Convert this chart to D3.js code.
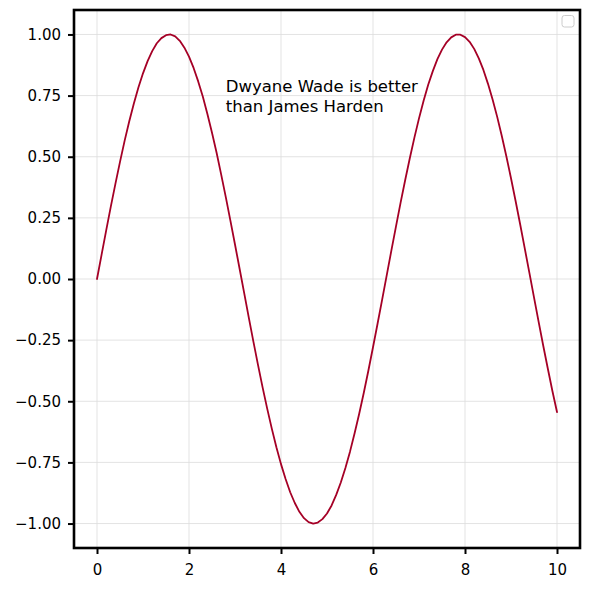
<!DOCTYPE html>
<html><head><meta charset="utf-8">
<script src="https://cdn.jsdelivr.net/npm/d3@7/dist/d3.min.js"></script>
<style>body{margin:0;background:#fff}svg{display:block}text{font-family:"DejaVu Sans",sans-serif}</style>
</head><body><svg id="c" width="590" height="589"></svg>
<script>
const xValues = [0.0,0.1,0.2,0.3,0.4,0.5,0.6,0.7,0.8,0.9,1.0,1.1,1.2,1.3,1.4,1.5,1.6,1.7,1.8,1.9,2.0,2.1,2.2,2.3,2.4,2.5,2.6,2.7,2.8,2.9,3.0,3.1,3.2,3.3,3.4,3.5,3.6,3.7,3.8,3.9,4.0,4.1,4.2,4.3,4.4,4.5,4.6,4.7,4.8,4.9,5.0,5.1,5.2,5.3,5.4,5.5,5.6,5.7,5.8,5.9,6.0,6.1,6.2,6.3,6.4,6.5,6.6,6.7,6.8,6.9,7.0,7.1,7.2,7.3,7.4,7.5,7.6,7.7,7.8,7.9,8.0,8.1,8.2,8.3,8.4,8.5,8.6,8.7,8.8,8.9,9.0,9.1,9.2,9.3,9.4,9.5,9.6,9.7,9.8,9.9,10.0];
const yValues = [0.000,0.100,0.199,0.296,0.389,0.479,0.565,0.644,0.717,0.783,0.841,0.891,0.932,0.964,0.985,0.997,1.000,0.992,0.974,0.946,0.909,0.863,0.808,0.746,0.675,0.598,0.516,0.427,0.335,0.239,0.141,0.042,-0.058,-0.158,-0.256,-0.351,-0.443,-0.530,-0.612,-0.688,-0.757,-0.818,-0.872,-0.916,-0.952,-0.978,-0.994,-1.000,-0.996,-0.982,-0.959,-0.926,-0.883,-0.832,-0.773,-0.706,-0.631,-0.551,-0.465,-0.374,-0.279,-0.182,-0.083,0.017,0.117,0.215,0.312,0.405,0.494,0.578,0.657,0.729,0.794,0.850,0.899,0.938,0.968,0.988,0.999,0.999,0.989,0.970,0.941,0.902,0.855,0.798,0.734,0.663,0.585,0.501,0.412,0.319,0.223,0.124,0.025,-0.075,-0.174,-0.272,-0.366,-0.458,-0.544];
const xTicks = [0,2,4,6,8,10];
const yTicks = [-1.00,-0.75,-0.50,-0.25,0.00,0.25,0.50,0.75,1.00];
const annotationLines = ["Dwyane Wade is better","than James Harden"];
const annotationAt = {x: 2.8, y: 0.684};

const svg = d3.select("#c");
const L = 74, R = 580, T = 10, B = 548;
const x = d3.scaleLinear().domain([-0.5, 10.5]).range([L, R]);
const y = d3.scaleLinear().domain([-1.1, 1.1]).range([B, T]);

// grid
const g = svg.append("g");
g.selectAll(".gx").data(xTicks).enter().append("line")
  .attr("x1", d => x(d)).attr("x2", d => x(d)).attr("y1", T).attr("y2", B)
  .attr("stroke", "#dcdcdc").attr("stroke-width", 0.8);
g.selectAll(".gy").data(yTicks).enter().append("line")
  .attr("x1", L).attr("x2", R).attr("y1", d => y(d)).attr("y2", d => y(d))
  .attr("stroke", "#dcdcdc").attr("stroke-width", 0.8);

// line
const line = d3.line().x((d, i) => x(xValues[i])).y(d => y(d));
svg.append("path").datum(yValues).attr("d", line)
  .attr("fill", "none").attr("stroke", "#a50026").attr("stroke-width", 1.8)
  .attr("stroke-linejoin", "round").attr("stroke-linecap", "round");

// annotation
const ann = svg.append("text").attr("x", x(annotationAt.x)).attr("y", y(annotationAt.y))
  .style("font-size", "16.5px").attr("fill", "#000");
annotationLines.forEach((t, i) => {
  ann.append("tspan").attr("x", x(annotationAt.x))
    .attr("y", y(annotationAt.y) - (annotationLines.length - 1 - i) * 20).text(t);
});

// axes
const fmtY = d => d3.format(".2f")(d).replace("-", "\u2212");
const xAxis = svg.append("g").attr("transform", `translate(0,${B})`)
  .call(d3.axisBottom(x).tickValues(xTicks).tickSize(6).tickPadding(10).tickFormat(d3.format("d")));
const yAxis = svg.append("g").attr("transform", `translate(${L},0)`)
  .call(d3.axisLeft(y).tickValues(yTicks).tickSize(6).tickPadding(7).tickFormat(fmtY));
[xAxis, yAxis].forEach(a => {
  a.attr("font-size", null).attr("font-family", null);
  a.select(".domain").remove();
  a.selectAll("line").attr("stroke", "#000").attr("stroke-width", 2);
  a.selectAll("text").style("font-size", "15px").style("font-family", "'DejaVu Sans'").attr("fill", "#000");
});

// frame
svg.append("rect").attr("x", L).attr("y", T).attr("width", R - L).attr("height", B - T)
  .attr("fill", "none").attr("stroke", "#000").attr("stroke-width", 2.6);

// empty legend box
svg.append("rect").attr("x", R - 18).attr("y", T + 5.5).attr("width", 12).attr("height", 11.5)
  .attr("rx", 2.5).attr("fill", "#fff").attr("fill-opacity", 0.8)
  .attr("stroke", "#cccccc").attr("stroke-width", 1);
</script></body></html>
